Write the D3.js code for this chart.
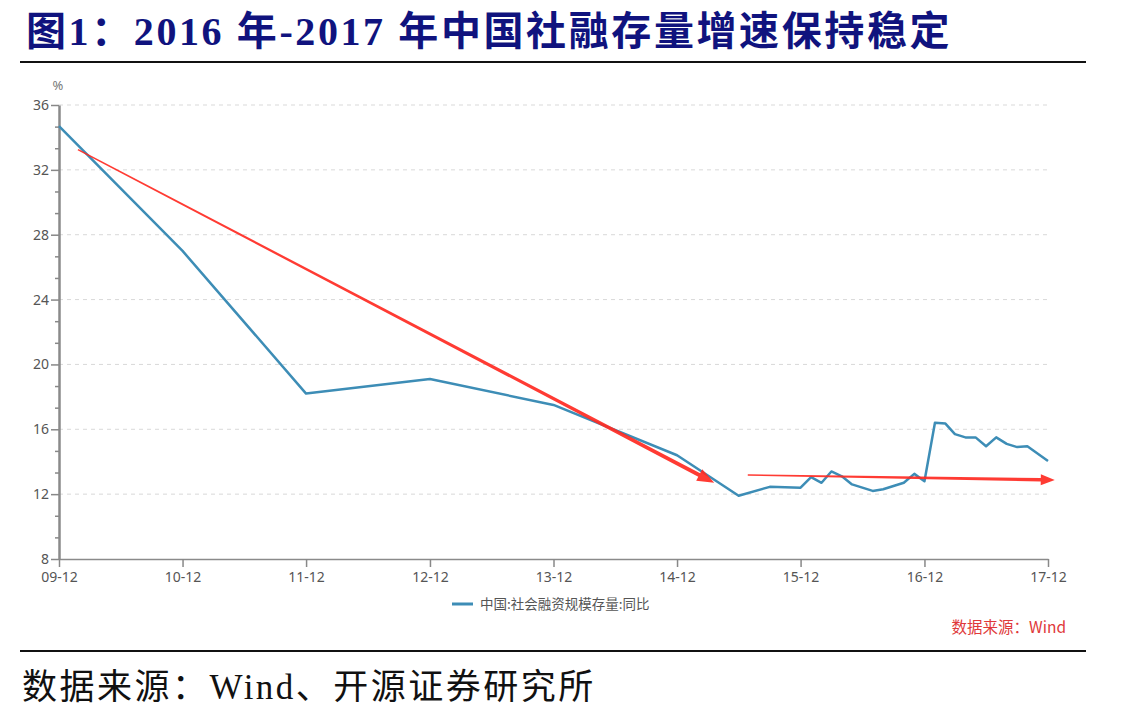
<!DOCTYPE html>
<html>
<head>
<meta charset="utf-8">
<script src="https://cdn.jsdelivr.net/npm/d3@7"></script>
<style>
  body { margin: 0; background: #fff; }
  svg { display: block; }
</style>
</head>
<body>
<svg id="chart" width="1137" height="716"></svg>
<script>
// series: 中国:社会融资规模存量:同比 (%)
var dates = ["2009-12", "2010-12", "2011-12", "2012-12", "2013-12", "2014-12",
             "2015-06", "2015-09", "2015-12",
             "2016-01", "2016-02", "2016-03", "2016-04", "2016-05", "2016-07", "2016-08",
             "2016-10", "2016-11", "2016-12",
             "2017-01", "2017-02", "2017-03", "2017-04", "2017-05", "2017-06", "2017-07",
             "2017-08", "2017-09", "2017-10", "2017-12"]
var values = [34.7, 27.0, 18.2, 19.1, 17.5, 14.4,
              11.9, 12.45, 12.4,
              13.05, 12.7, 13.4, 13.1, 12.6, 12.2, 12.3,
              12.7, 13.25, 12.8,
              16.4, 16.35, 15.7, 15.5, 15.5, 14.95, 15.5,
              15.1, 14.9, 14.95, 14.05]
var yTicks = [8, 12, 16, 20, 24, 28, 32, 36]
var xTicks = ["2009-12", "2010-12", "2011-12", "2012-12", "2013-12", "2014-12", "2015-12", "2016-12", "2017-12"]
// trend arrows drawn by hand on the original (date, value)
var arrowDown = [["2010-01-26", 33.25], ["2015-03-21", 12.7]]
var arrowFlat = [["2015-06-28", 13.18], ["2017-12-21", 12.87]]

var title = "图1：2016 年-2017 年中国社融存量增速保持稳定"
var legendLabel = "中国:社会融资规模存量:同比"
var innerSource = "数据来源：Wind"
var footSource = "数据来源：Wind、开源证券研究所"

var parseMonth = d3.timeParse("%Y-%m")
var parseDay = d3.timeParse("%Y-%m-%d")
var series = dates.map((d, i) => ({ date: parseMonth(d), value: values[i] }))

var svg = d3.select("#chart")
var margin = { left: 59, right: 1048, top: 105, bottom: 559 }

var x = d3.scaleTime()
    .domain([parseMonth("2009-12"), parseMonth("2017-12")])
    .range([margin.left, margin.right])
var y = d3.scaleLinear()
    .domain([8, 36])
    .range([margin.bottom, margin.top])

// title + rules
svg.append("text")
    .attr("x", 26)
    .attr("y", 45)
    .style("font-family", "'Liberation Serif', 'Noto Sans CJK SC', serif")
    .style("font-weight", "bold")
    .style("font-size", "40px")
    .style("letter-spacing", "2.6px")
    .style("fill", "#10137e")
    .text(title)
svg.append("line")
    .attr("x1", 20).attr("x2", 1086)
    .attr("y1", 62).attr("y2", 62)
    .style("stroke", "#111").style("stroke-width", 2)
svg.append("line")
    .attr("x1", 20).attr("x2", 1086)
    .attr("y1", 651).attr("y2", 651)
    .style("stroke", "#111").style("stroke-width", 2)
svg.append("text")
    .attr("x", 22)
    .attr("y", 699)
    .style("font-family", "'Liberation Serif', 'Noto Sans CJK SC', serif")
    .style("font-size", "35px")
    .style("letter-spacing", "2.5px")
    .style("fill", "#111")
    .text(footSource)

// grid
svg.append("g")
    .selectAll("line")
    .data(yTicks.filter(t => t > 8))
    .enter()
    .append("line")
    .attr("x1", margin.left).attr("x2", margin.right)
    .attr("y1", d => y(d)).attr("y2", d => y(d))
    .style("stroke", "#d9d9d9")
    .style("stroke-width", 1)
    .style("stroke-dasharray", "4,4")

var axisFont = "'Noto Sans', 'Open Sans', sans-serif"

// y axis with minor ticks
var minor = d3.range(8, 36, 4 / 3).filter((v, i) => i % 3 != 0)
svg.append("g")
    .attr("transform", "translate(" + margin.left + ",0)")
    .call(d3.axisLeft(y).tickValues(minor).tickSize(4).tickFormat(""))
    .call(g => g.select(".domain").remove())
    .call(g => g.selectAll("line").style("stroke", "#888").style("stroke-width", 1.5))
var yAxis = svg.append("g")
    .attr("transform", "translate(" + margin.left + ",0)")
    .call(d3.axisLeft(y).tickValues(yTicks).tickSize(8).tickSizeOuter(0).tickPadding(2))
yAxis.select(".domain").style("stroke", "#8a8a8a").style("stroke-width", 2.5)
yAxis.selectAll("line").style("stroke", "#888").style("stroke-width", 1.5)
yAxis.selectAll("text")
    .style("font-family", axisFont)
    .style("font-size", "14px")
    .style("fill", "#555")

svg.append("text")
    .attr("x", 58)
    .attr("y", 90)
    .attr("text-anchor", "middle")
    .style("font-family", axisFont)
    .style("font-size", "13px")
    .style("fill", "#777")
    .text("%")

// x axis
var xAxis = svg.append("g")
    .attr("transform", "translate(0," + margin.bottom + ")")
    .call(d3.axisBottom(x)
        .tickValues(xTicks.map(parseMonth))
        .tickFormat(d3.timeFormat("%y-%m"))
        .tickSize(8).tickSizeOuter(0).tickPadding(5))
xAxis.select(".domain").style("stroke", "#8a8a8a").style("stroke-width", 1.5)
xAxis.selectAll("line").style("stroke", "#888").style("stroke-width", 1.5)
xAxis.selectAll("text")
    .style("font-family", axisFont)
    .style("font-size", "14px")
    .style("fill", "#555")

// series line
var blue = "#3d8db6"
svg.append("path")
    .datum(series)
    .attr("fill", "none")
    .attr("stroke", blue)
    .attr("stroke-width", 2.5)
    .attr("stroke-linejoin", "round")
    .attr("d", d3.line()
        .x(d => x(d.date))
        .y(d => y(d.value)))

// tapered red arrows
function drawArrow(pts, w0, w1, headLen, headW) {
    var x0 = x(parseDay(pts[0][0])), y0 = y(pts[0][1])
    var x1 = x(parseDay(pts[1][0])), y1 = y(pts[1][1])
    var len = Math.hypot(x1 - x0, y1 - y0)
    var ux = (x1 - x0) / len, uy = (y1 - y0) / len
    var nx = -uy, ny = ux
    var bx = x1 - ux * headLen, by = y1 - uy * headLen
    var poly = [
        [x0 + nx * w0 / 2, y0 + ny * w0 / 2],
        [bx + nx * w1 / 2, by + ny * w1 / 2],
        [bx + nx * headW / 2, by + ny * headW / 2],
        [x1, y1],
        [bx - nx * headW / 2, by - ny * headW / 2],
        [bx - nx * w1 / 2, by - ny * w1 / 2],
        [x0 - nx * w0 / 2, y0 - ny * w0 / 2]
    ]
    svg.append("path")
        .attr("d", d3.line()(poly) + "Z")
        .style("fill", "#ff2a22")
        .style("opacity", 0.92)
}
drawArrow(arrowDown, 1.5, 4, 17, 13)
drawArrow(arrowFlat, 1.5, 3.5, 14, 11)

// legend
svg.append("line")
    .attr("x1", 452).attr("x2", 473)
    .attr("y1", 604).attr("y2", 604)
    .style("stroke", blue).style("stroke-width", 3)
svg.append("text")
    .attr("x", 480)
    .attr("y", 609)
    .style("font-family", "'Noto Sans CJK SC', sans-serif")
    .style("font-size", "13.5px")
    .style("fill", "#555")
    .text(legendLabel)

svg.append("text")
    .attr("x", 1066)
    .attr("y", 633)
    .attr("text-anchor", "end")
    .style("font-family", "'Noto Sans CJK SC', sans-serif")
    .style("font-size", "15.5px")
    .style("fill", "#e0393a")
    .text(innerSource)
</script>
</body>
</html>
